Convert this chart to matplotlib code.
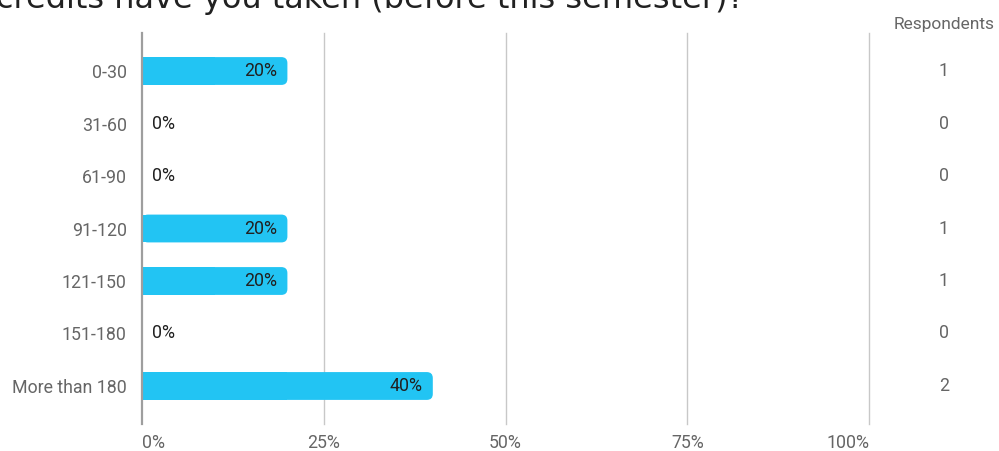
import matplotlib.pyplot as plt
from matplotlib.patches import FancyBboxPatch, Rectangle
from matplotlib.transforms import blended_transform_factory

categories = ["0-30", "31-60", "61-90", "91-120", "121-150", "151-180", "More than 180"]
percents = [20, 0, 0, 20, 20, 0, 40]
respondents = [1, 0, 0, 1, 1, 0, 2]
xticks = [0, 25, 50, 75, 100]
title = "How many credits have you taken (before this semester)?"

bar_color = "#22C4F3"
grey = "#666666"
dark = "#212121"

fig = plt.figure(figsize=(9.99, 4.51), dpi=100)
ax = fig.add_axes([142 / 999, 1 - 424 / 451, 727 / 999, 391 / 451])

y = list(range(len(categories)))
bar_h = 0.53
ax.set_xlim(0, 100)
ax.set_ylim(len(categories) - 1 + 0.724, -0.724)

# grid
for t in xticks[1:]:
    ax.axvline(t, color="#c8c8c8", lw=1.0, zorder=0, clip_on=False)
ax.axvline(0, color="#9e9e9e", lw=1.6, zorder=3, clip_on=False)

# rounded bars (square left edge, rounded right edge)
px_x = 727 / 100  # pixels per data unit in x
px_y = 52.5       # pixels per data unit in y
r = 6 / px_x
for yi, p in zip(y, percents):
    if p <= 0:
        continue
    ax.add_patch(FancyBboxPatch((0, yi - bar_h / 2), p, bar_h,
                                boxstyle=f"round,pad=0,rounding_size={r}",
                                mutation_aspect=px_x / px_y,
                                fc=bar_color, ec="none", zorder=2))
    ax.add_patch(Rectangle((0, yi - bar_h / 2), p / 2, bar_h,
                           fc=bar_color, ec="none", zorder=2))

# value labels
fs = 12.8
for yi, p in zip(y, percents):
    if p > 0:
        ax.text(p - 1.35, yi, f"{p}%", ha="right", va="center",
                fontsize=fs, family="Roboto", color=dark, zorder=4)
    else:
        ax.text(1.35, yi, f"{p}%", ha="left", va="center",
                fontsize=fs, family="Roboto", color=dark, zorder=4)

ax.set_yticks(y)
ax.set_yticklabels(categories, fontsize=fs, family="Roboto", color=grey)
ax.set_xticks(xticks)
ax.set_xticklabels([f"{t}%" for t in xticks], fontsize=fs, family="Roboto", color=grey)
xl = ax.get_xticklabels()
xl[0].set_ha("left")
xl[-1].set_ha("right")
ax.tick_params(length=0)
ax.tick_params(axis="y", pad=11)
ax.tick_params(axis="x", pad=7)
for s in ax.spines.values():
    s.set_visible(False)

# respondents column
tr = blended_transform_factory(fig.transFigure, ax.transData)
for yi, n in zip(y, respondents):
    ax.text(944 / 999, yi, str(n), transform=tr,
            ha="center", va="center", fontsize=fs, family="Roboto", color=grey)
fig.text(944 / 999, 1 - 24 / 451, "Respondents", ha="center", va="center",
         fontsize=12.5, family="Roboto", color=grey)

# title runs off the top/left edge as in the source screenshot
fig.text(744 / 999, 1 - 8 / 451, title, ha="right", va="baseline",
         fontsize=23, family="DejaVu Sans", color=dark)

fig.savefig("out.png", dpi=100)
